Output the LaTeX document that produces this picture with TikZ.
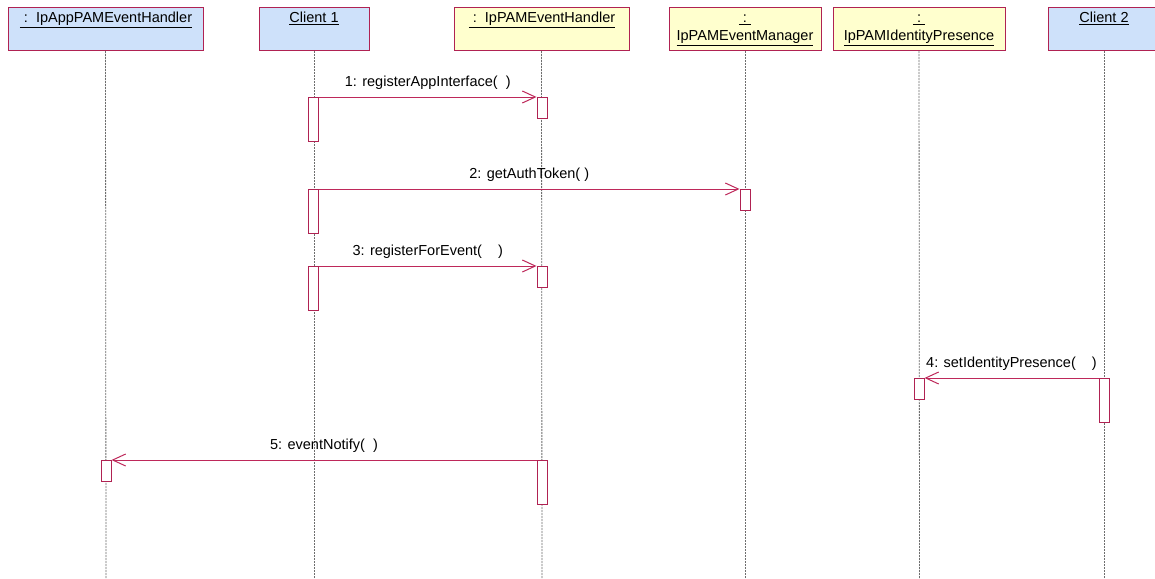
\documentclass[tikz,border=0pt]{standalone}
\usepackage{fontspec}
\setmainfont{Liberation Sans}
\usetikzlibrary{arrows.meta,calc}
\definecolor{bord}{RGB}{176,34,82}
\definecolor{msgc}{RGB}{190,40,90}
\definecolor{objblue}{RGB}{206,225,250}
\definecolor{objyel}{RGB}{255,255,206}
\definecolor{lifec}{RGB}{110,110,110}
\begin{document}
\begin{tikzpicture}[x=1pt,y=-1pt,
  font=\fontsize{14.5}{18}\selectfont,
  obj/.style={draw=bord, line width=1pt, inner sep=0pt, anchor=north, minimum height=43pt},
  objb/.style={obj, fill=objblue},
  objy/.style={obj, fill=objyel},
  otext/.style={anchor=base, inner sep=0pt},
  act/.style={draw=bord, fill=white, line width=1pt, inner sep=0pt, anchor=north, minimum width=10pt},
  actl/.style={act, minimum height=44pt},
  acts/.style={act, minimum height=21pt},
  life/.style={draw=lifec, line width=0.8pt, dash pattern=on 2pt off 1pt},
  msg/.style={draw=msgc, line width=1pt, -{Straight Barb[length=13pt,width=12pt,line width=1pt]}},
  mlbl/.style={anchor=base, inner sep=0pt}
]
\useasboundingbox (0,0) rectangle (1155,578);
\fill[white] (0,0) rectangle (1155,578);

% object boxes
\node[objb, minimum width=195pt] (o1) at (105.5,7) {};
\node[objb, minimum width=110pt] (o2) at (314,7) {};
\node[objy, minimum width=175pt] (o3) at (541.5,7) {};
\node[objy, minimum width=152pt] (o4) at (745,7) {};
\node[objy, minimum width=172pt] (o5) at (919,7) {};
\node[objb, minimum width=112pt] (o6) at (1104,7) {};

\node[otext] (t1) at (106,23) {\underline{\ :\ \ IpAppPAMEventHandler}};
\node[otext] (t2) at (314,23) {\underline{Client 1}};
\node[otext] (t3) at (542,23) {\underline{\ :\ \ IpPAMEventHandler}};
\node[otext] (t4a) at (745,23) {\underline{\ :\ }};
\node[otext] (t4b) at (745,41) {\underline{IpPAMEventManager}};
\node[otext] (t5a) at (919,23) {\underline{\ :\ }};
\node[otext] (t5b) at (919,41) {\underline{IpPAMIdentityPresence}};
\node[otext] (t6) at (1104,23) {\underline{Client 2}};

% lifeline ends
\coordinate (e1) at (106,578);
\coordinate (e2) at (314,578);
\coordinate (e3) at (542,578);
\coordinate (e4) at (745,578);
\coordinate (e5) at (919.5,578);
\coordinate (e6) at (1104,578);
\draw[life] (o1.south) -- (e1);
\draw[life] (o2.south) -- (e2);
\draw[life] (o3.south) -- (e3);
\draw[life] (o4.south) -- (e4);
\draw[life] (o5.south) -- (e5);
\draw[life] (o6.south) -- (e6);

% activations
\node[actl] (c1a) at (313.5,97) {};
\node[acts] (h1a) at (542,97) {};
\node[actl] (c1b) at (313.5,189) {};
\node[acts] (m1a) at (745,189) {};
\node[actl] (c1c) at (313.5,266) {};
\node[acts] (h1b) at (542,266) {};
\node[acts] (p1a) at (919,378) {};
\node[actl] (c2a) at (1104,378) {};
\node[actl] (h1c) at (542,460) {};
\node[acts] (a1a) at (106,460) {};

% messages
\draw[msg] (c1a.north east) -- (h1a.north west);
\draw[msg] (c1b.north east) -- (m1a.north west);
\draw[msg] (c1c.north east) -- (h1b.north west);
\draw[msg] (c2a.north west) -- (p1a.north east);
\draw[msg] (h1c.north west) -- (a1a.north east);

\node[mlbl] (l1) at ($(c1a.north east)!0.5!(h1a.north west)+(0,-11)$) {1: registerAppInterface(\ \ )};
\node[mlbl] (l2) at ($(c1b.north east)!0.5!(m1a.north west)+(0,-11)$) {2: getAuthToken( )};
\node[mlbl] (l3) at ($(c1c.north east)!0.5!(h1b.north west)+(0,-11)$) {3: registerForEvent(\ \ \ \ )};
\node[mlbl] (l4) at ($(c2a.north west)!0.5!(p1a.north east)+(0,-11)$) {4: setIdentityPresence(\ \ \ \ )};
\node[mlbl] (l5) at ($(h1c.north west)!0.5!(a1a.north east)+(0,-11)$) {5: eventNotify(\ \ )};
\end{tikzpicture}
\end{document}
